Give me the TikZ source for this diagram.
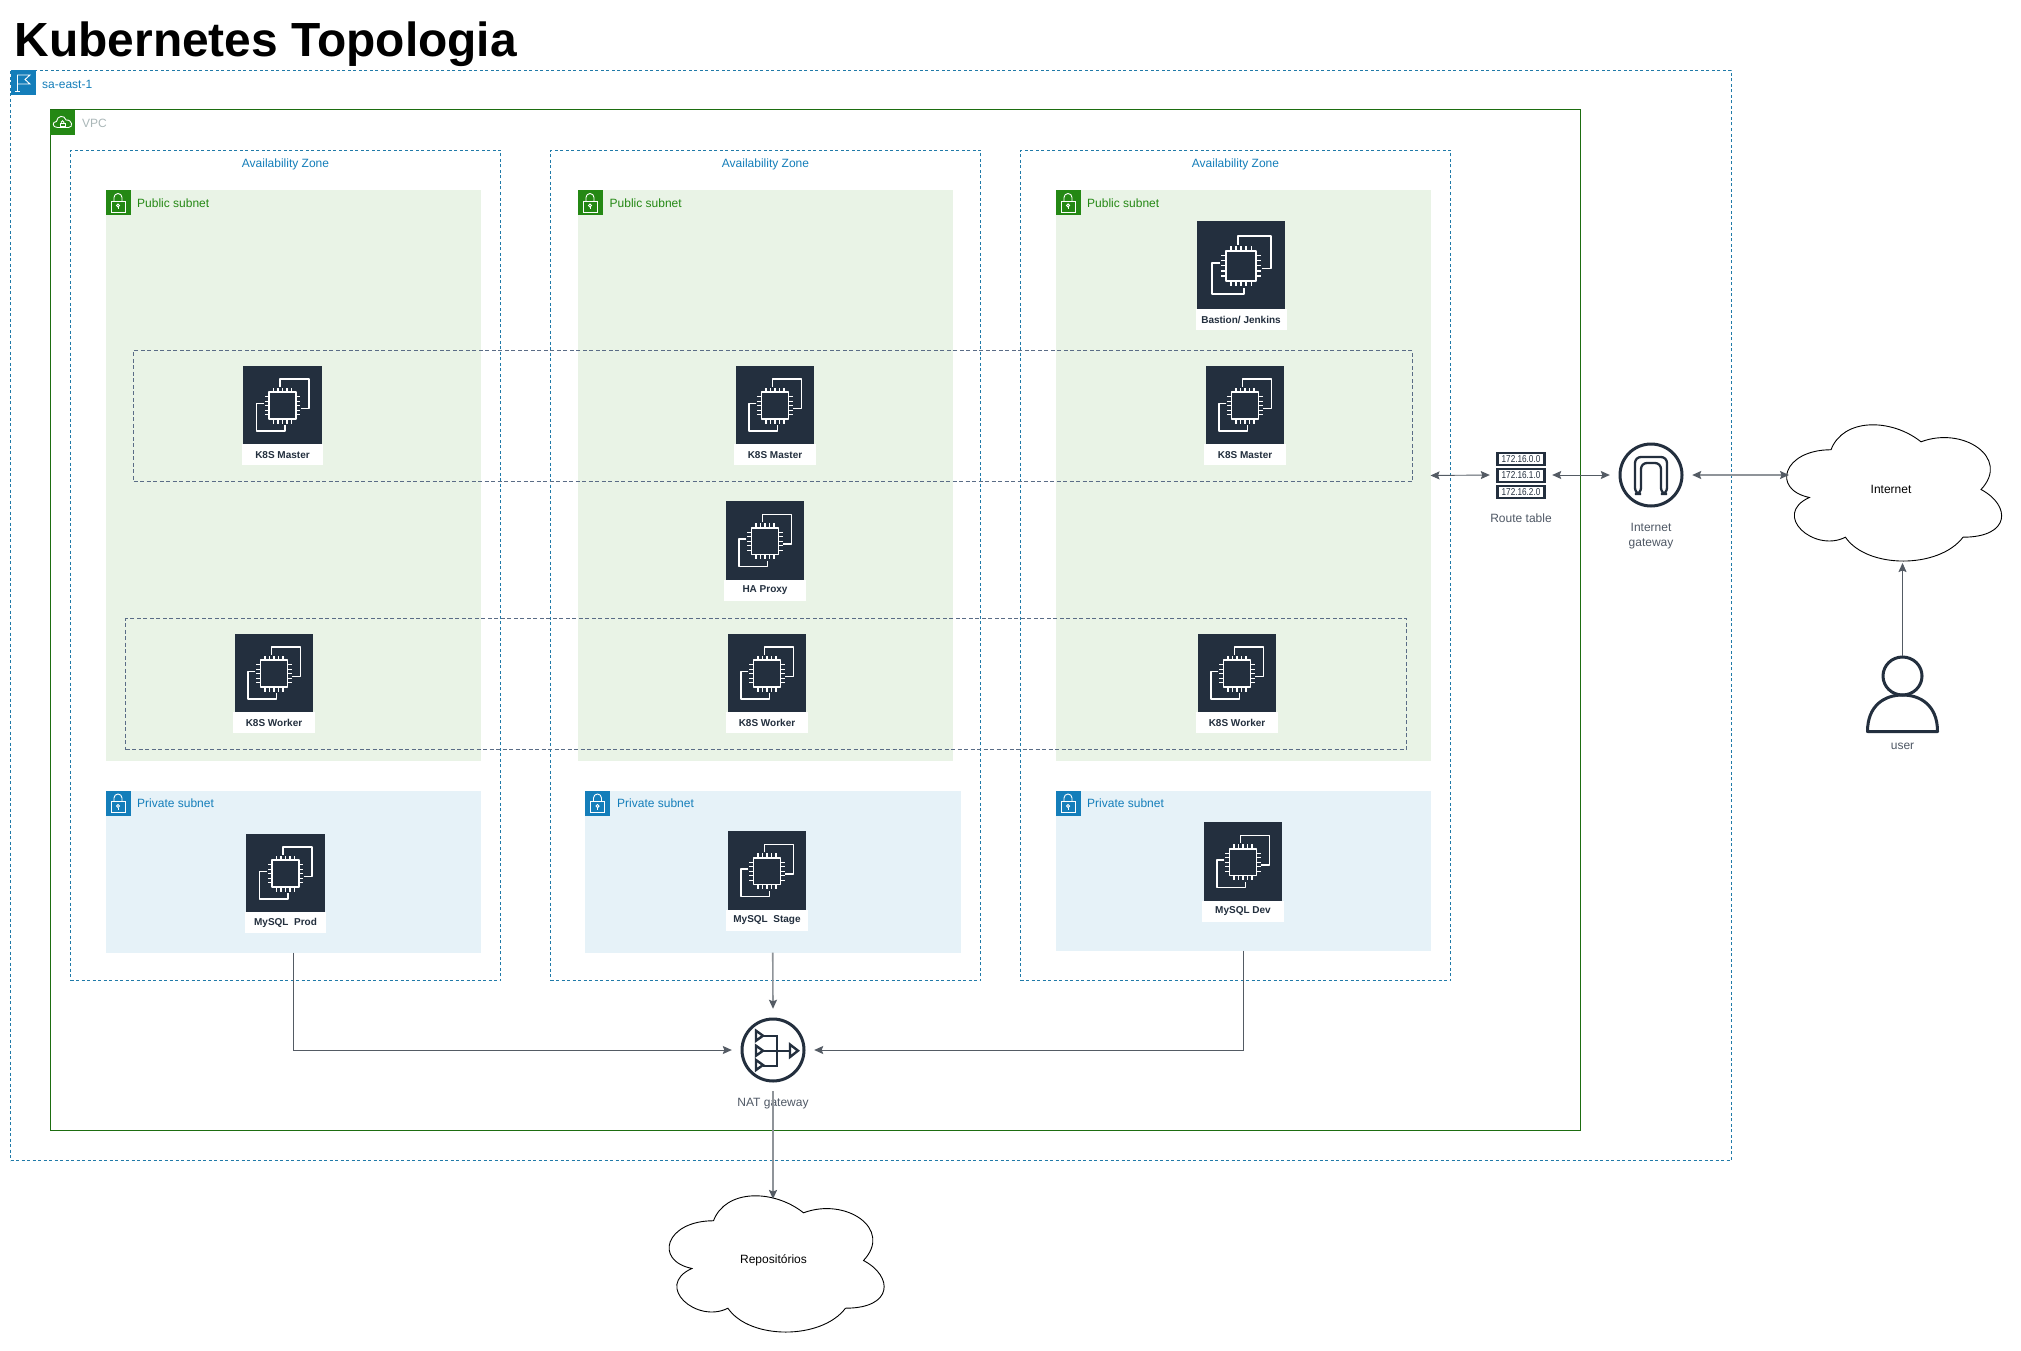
\documentclass[tikz,border=0pt]{standalone}
\usepackage{fontspec}
\setmainfont{Liberation Sans}
\usetikzlibrary{arrows.meta,calc}
\definecolor{awsblue}{HTML}{147EBA}
\definecolor{azline}{HTML}{1F7AA8}
\definecolor{awsgreen}{HTML}{248814}
\definecolor{pubfill}{HTML}{E9F3E6}
\definecolor{privfill}{HTML}{E6F2F8}
\definecolor{squid}{HTML}{232F3E}
\definecolor{vpcgrey}{HTML}{AAB7B8}
\definecolor{linegrey}{HTML}{545B64}
\definecolor{lightline}{HTML}{8F9499}
\definecolor{groupline}{HTML}{5A6C86}
\tikzset{
  txt/.style={font=\fontsize{12}{14}\selectfont,inner sep=0pt,text=#1},
  txt/.default=black,
  frame/.style={inner sep=0pt,outer sep=0pt,anchor=north west},
  azbox/.style={frame,draw=azline,line width=.9pt,dash pattern=on 3pt off 2.5pt,minimum width=430pt,minimum height=830pt},
  pubbox/.style={frame,fill=pubfill,minimum width=375pt,minimum height=570pt},
  privbox/.style={frame,fill=privfill,minimum width=375.5pt},
  groupbox/.style={frame,draw=groupline,line width=.7pt,dash pattern=on 4pt off 2.5pt},
  badge/.style={inner sep=0pt,outer sep=0pt,minimum size=25pt,anchor=north west,fill=#1},
  ecbox/.style={inner sep=0pt,outer sep=0pt,fill=squid},
  eclabel/.style={inner sep=0pt,outer sep=0pt,fill=white,minimum height=21pt,text=squid,font=\fontsize{10}{12}\selectfont\bfseries},
  iconline/.style={draw=squid,line width=3pt},
  arr/.style={draw=linegrey,line width=.9pt,-{Stealth[length=9pt,width=8pt,inset=1.5pt]}},
  arrlight/.style={draw=lightline,line width=1.6pt,-{Stealth[length=9pt,width=8pt,inset=1.5pt,color=linegrey,fill=linegrey]}},
  dbl/.style={draw=linegrey,line width=.9pt,{Stealth[length=9pt,width=8pt,inset=1.5pt]}-{Stealth[length=9pt,width=8pt,inset=1.5pt]}},
  dbllight/.style={draw=lightline,line width=1.3pt,{Stealth[length=9pt,width=8pt,inset=1.5pt,color=linegrey,fill=linegrey]}-{Stealth[length=9pt,width=8pt,inset=1.5pt,color=linegrey,fill=linegrey]}},
}
% #1 name, #2 x centre, #3 y centre, #4 label, #5 size
\newcommand{\ecnode}[5]{%
  \node[ecbox,minimum size=#5pt] (#1) at (#2,#3) {};
  \begin{scope}[shift={(#1.center)},scale=#5/78,draw=white,line width=1.5pt,line join=round]
    \draw (-2.5,-18) -- (-2.5,-25.7) -- (26.5,-25.7) -- (26.5,3.3) -- (18.3,3.3);
    \draw (-18.5,-1.7) -- (-25.8,-1.7) -- (-25.8,25.7) -- (2.5,25.7) -- (2.5,20);
    \draw[fill=squid,line width=1.7pt] (-13.3,-12.6) rectangle (13.3,14);
    \foreach \p in {-9,-4.5,0,4.5,9}{
      \draw[line width=1.3pt] (\p,-12.6) -- (\p,-17);
      \draw[line width=1.3pt] (\p,14) -- (\p,18.4);
      \draw[line width=1.3pt] (-13.3,\p+.7) -- (-17.7,\p+.7);
      \draw[line width=1.3pt] (13.3,\p+.7) -- (17.7,\p+.7);
    }
  \end{scope}
  \node[eclabel,minimum width=#5pt+3pt,anchor=north] (#1lab) at (#1.south) {#4};
}
\newcommand{\lockicon}[1]{%
  \begin{scope}[shift={(#1.center)},draw=white,line width=.9pt]
    \draw (-7,-2) rectangle (7,9.3);
    \draw (-4,-2) -- (-4,-5.5) arc[start angle=180,end angle=360,radius=4] -- (4,-2);
    \draw (0,2.5) circle (1.6);
    \draw (0,4.1) -- (0,6.5);
  \end{scope}
}
% #1 name, #2 x0, #3 y0, #4 text
\newcommand{\cloudnode}[4]{%
  \begin{scope}[shift={(#2,#3)},x=240pt,y=-159pt]
    \draw[black,line width=.9pt,fill=white] (.25,.25) .. controls (.05,.25) and (0,.5) .. (.16,.55)
      .. controls (0,.66) and (.18,.9) .. (.31,.8)
      .. controls (.4,1) and (.7,1) .. (.8,.8)
      .. controls (1,.8) and (1,.6) .. (.875,.5)
      .. controls (1,.3) and (.8,.1) .. (.625,.2)
      .. controls (.5,.05) and (.3,.05) .. (.25,.25) -- cycle;
    \node[txt=black] (#1) at (.5,.5) {#4};
  \end{scope}
}
\begin{document}
\begin{tikzpicture}[x=1pt,y=-1pt]
\useasboundingbox (0,0) rectangle (2021,1351);
\fill[white] (0,0) rectangle (2021,1351);

% title
\node[anchor=base west,inner sep=0pt,font=\fontsize{47.9}{50}\selectfont\bfseries] (title) at (14.5,57) {Kubernetes Topologia};

% region
\node[frame,draw=azline,line width=.9pt,dash pattern=on 3pt off 2.5pt,minimum width=1720.5pt,minimum height=1090pt] (region) at (10.5,70.5) {};
\node[badge=awsblue] (regionicon) at (10.5,70.5) {};
\begin{scope}[shift={(regionicon.center)},draw=white,line width=.9pt]
  \draw (-5.5,8.5) -- (-5.5,-8) -- (7,-8) -- (2,-3.5) -- (7,1) -- (-5.5,1);
  \draw (-8,8.5) -- (-3,8.5);
\end{scope}
\node[txt=awsblue,anchor=west] (regionlab) at (42,84) {sa-east-1};

% VPC
\node[frame,draw=awsgreen!80!black,line width=1pt,minimum width=1530.5pt,minimum height=1020.5pt] (vpc) at (50,110) {};
\node[badge=awsgreen] (vpcicon) at (50,110) {};
\begin{scope}[shift={(vpcicon.center)},draw=white,line width=.9pt]
  \draw (-5,5) .. controls (-10.5,5) and (-10.5,-1) .. (-6,-1) .. controls (-5.5,-7) and (2,-8) .. (3.5,-2.5)
     .. controls (10,-3) and (11,5) .. (6,5) -- cycle;
  \draw (-2.5,.5) rectangle (2.5,3.5);
  \draw (-1.3,.5) -- (-1.3,-.5) arc[start angle=180,end angle=360,radius=1.3] -- (1.3,.5);
\end{scope}
\node[txt=vpcgrey,anchor=west] (vpclab) at (82,123.5) {VPC};

% availability zones
\node[azbox] (az1) at (70.5,150.5) {};
\node[azbox] (az2) at (550.5,150.5) {};
\node[azbox] (az3) at (1020.5,150.5) {};
\node[txt=awsblue] (az1lab) at (285.5,164) {Availability Zone};
\node[txt=awsblue] (az2lab) at (765.5,164) {Availability Zone};
\node[txt=awsblue] (az3lab) at (1235.5,164) {Availability Zone};

% public subnets
\node[pubbox] (pub1) at (105.5,190.5) {};
\node[pubbox] (pub2) at (577.5,190.5) {};
\node[pubbox] (pub3) at (1055.5,190.5) {};
\node[badge=awsgreen] (pub1icon) at (105.5,190.5) {};
\node[badge=awsgreen] (pub2icon) at (577.5,190.5) {};
\node[badge=awsgreen] (pub3icon) at (1055.5,190.5) {};
\lockicon{pub1icon}\lockicon{pub2icon}\lockicon{pub3icon}
\node[txt=awsgreen,anchor=west] (pub1lab) at (137,203.5) {Public subnet};
\node[txt=awsgreen,anchor=west] (pub2lab) at (609.5,203.5) {Public subnet};
\node[txt=awsgreen,anchor=west] (pub3lab) at (1087,203.5) {Public subnet};

% private subnets
\node[privbox,minimum height=161.5pt] (priv1) at (105.5,791) {};
\node[privbox,minimum height=161.5pt] (priv2) at (585,791) {};
\node[privbox,minimum height=159.5pt] (priv3) at (1055.5,791) {};
\node[badge=awsblue] (priv1icon) at (105.5,791) {};
\node[badge=awsblue] (priv2icon) at (585,791) {};
\node[badge=awsblue] (priv3icon) at (1055.5,791) {};
\lockicon{priv1icon}\lockicon{priv2icon}\lockicon{priv3icon}
\node[txt=awsblue,anchor=west] (priv1lab) at (137,803.5) {Private subnet};
\node[txt=awsblue,anchor=west] (priv2lab) at (617,803.5) {Private subnet};
\node[txt=awsblue,anchor=west] (priv3lab) at (1087,803.5) {Private subnet};

% dashed groups
\node[groupbox,minimum width=1279pt,minimum height=131pt] (masters) at (133.5,350.5) {};
\node[groupbox,minimum width=1281pt,minimum height=131pt] (workers) at (125.5,618.5) {};

% EC2 instances
\ecnode{bastion}{1241}{265}{Bastion/ Jenkins}{88}
\ecnode{m1}{282.5}{405}{K8S Master}{78.5}
\ecnode{m2}{775}{405}{K8S Master}{78.5}
\ecnode{m3}{1245}{405}{K8S Master}{78.5}
\ecnode{ha}{765}{540.5}{HA Proxy}{78.5}
\ecnode{w1}{274}{673}{K8S Worker}{78.5}
\ecnode{w2}{767}{673}{K8S Worker}{78.5}
\ecnode{w3}{1237}{673}{K8S Worker}{78.5}
\ecnode{prod}{285.5}{873}{MySQL\ \ Prod}{78.5}
\ecnode{stage}{767}{870.5}{MySQL\ \ Stage}{78.5}
\ecnode{dev}{1243}{861.5}{MySQL Dev}{78.5}

% route table
\node[inner sep=0pt,minimum size=62pt] (route) at (1521,475) {};
\foreach \n/\yy/\t in {r1/459/172.16.0.0,r2/475.5/172.16.1.0,r3/492/172.16.2.0}{
  \node[draw=squid,line width=2.3pt,fill=white,inner sep=0pt,minimum width=47pt,minimum height=12.5pt,font=\fontsize{10}{10}\selectfont,text=squid] (\n) at (1521,\yy) {\scalebox{.82}[1]{\t}};
}
\node[txt=squid!80!white] (routelab) at (1521,518) {Route table};

% internet gateway
\node[inner sep=0pt,minimum size=82pt] (igw) at (1651,475) {};
\draw[iconline] (igw.center) circle (31);
\begin{scope}[shift={(igw.center)}]
  \draw[draw=squid,line width=2.3pt,rounded corners=6pt] (-16,19) -- (-16,-18) -- (16,-18) -- (16,19) -- (10,19) -- (10,-12) -- (-10,-12) -- (-10,19) -- cycle;
\end{scope}
\node[txt=squid!80!white,align=center,font=\fontsize{12}{14.5}\selectfont] (igwlab) at (1651,536) {Internet\\gateway};

% NAT gateway
\node[inner sep=0pt,minimum size=82pt] (nat) at (773,1050) {};
\draw[iconline] (nat.center) circle (31);
\begin{scope}[shift={(nat.center)},draw=squid,line width=2.4pt]
  \foreach \yy in {-14.3,.7,15}{
    \draw (-17,\yy-5) -- (-10,\yy) -- (-17,\yy+5) -- cycle;
  }
  \draw (-10,-14.3) -- (3.7,-14.3) -- (3.7,16) -- (-10,16);
  \draw (-10,.7) -- (17,.7);
  \draw (17,-5.5) -- (25,.7) -- (17,7) -- cycle;
\end{scope}
\node[txt=squid!80!white] (natlab) at (773,1104) {NAT gateway};

% clouds
\cloudnode{internet}{1771}{410}{Internet}
\cloudnode{repos}{653.5}{1181}{Repositórios}
\coordinate (internetW) at (1789,475);
\coordinate (internetS) at (1902.5,563);
\coordinate (reposN) at (773,1199);

% user
\node[inner sep=0pt,minimum width=71pt,minimum height=77pt] (user) at (1902.5,695) {};
\draw[iconline] (1902.5,676) ellipse (19.5 and 19);
\draw[iconline,line join=round] (1867.5,731.5) .. controls (1867.5,705) and (1885,695) .. (1902.5,695) .. controls (1920,695) and (1937.5,705) .. (1937.5,731.5) -- cycle;
\node[txt=squid!80!white] (userlab) at (1902.5,746.5) {user};

% connectors
\draw[arr] (priv1.south) |- (nat.west);
\draw[arr] (priv3.south) |- (nat.east);
\draw[arrlight] (priv2.south) -- (nat.north);
\draw[arrlight] (nat.south) -- (reposN);
\draw[dbl] (pub3.east) -- (route.west);
\draw[dbl] (route.east) -- (igw.west);
\draw[dbllight] (igw.east) -- (internetW);
\draw[arr] (user.north) -- (internetS);
\end{tikzpicture}
\end{document}
